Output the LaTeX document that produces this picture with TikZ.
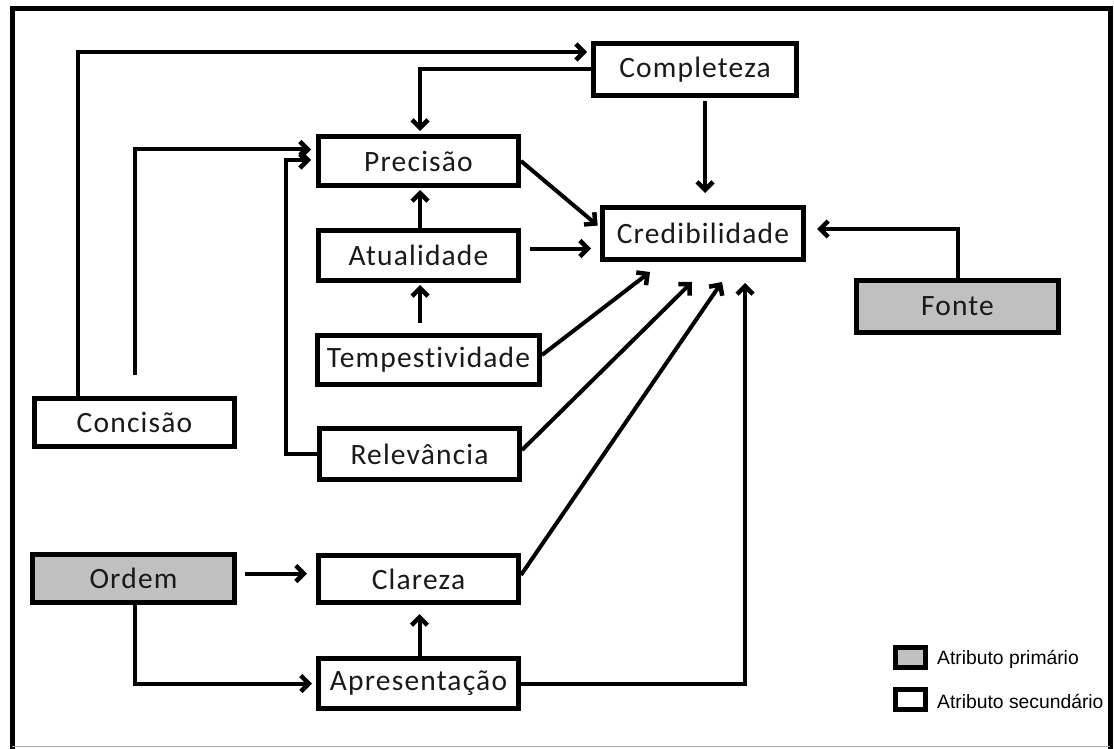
\documentclass[tikz,border=0pt]{standalone}
\usepackage{fontspec}
\setmainfont{Carlito}
\newfontfamily\boxfont[LetterSpace=4,Ligatures=NoCommon]{Carlito}
\newfontfamily\legendfont{Liberation Sans}
\usetikzlibrary{arrows.meta}
\definecolor{boxgray}{RGB}{192,192,192}
\definecolor{inkgray}{RGB}{25,25,25}
\begin{document}
\begin{tikzpicture}[x=1pt,y=-1pt,
  attr/.style={draw=black, line width=5pt, rectangle, fill=white, inner sep=0pt,
               font=\boxfont\fontsize{29.5}{32}\selectfont, text=inkgray},
  primary/.style={attr, fill=boxgray},
  arr/.style={line width=4pt, -{Straight Barb[length=8pt,width=16pt,line width=4.5pt]}},
  keybox/.style={draw=black, line width=5pt, rectangle, inner sep=0pt,
                 minimum width=30pt, minimum height=20pt},
  keytext/.style={anchor=west, inner sep=0pt, font=\legendfont\fontsize{19.3}{21}\selectfont}]

% page and outer frame
\fill[white] (0,0) rectangle (1114,749);
\useasboundingbox (0,0) rectangle (1114,749);
\draw[line width=5pt] (12,749) -- (12,9) -- (1110,9) -- (1110,749);
\draw[gray!60, line width=1.5pt] (12,746.5) -- (1110,746.5);

% attributes
\node[attr, minimum width=203pt, minimum height=52pt] (Completeza) at (695,69.5) {Completeza};
\node[attr, minimum width=200pt, minimum height=49pt] (Precisao) at (418.5,161) {Precisão};
\node[attr, minimum width=201pt, minimum height=52pt] (Cred) at (703,233.5) {Credibilidade};
\node[attr, minimum width=200pt, minimum height=50pt] (Atualidade) at (418.5,255.5) {Atualidade};
\node[attr, minimum width=222pt, minimum height=49pt] (Tempestividade) at (428.5,360) {Tempestividade};
\node[primary, minimum width=202pt, minimum height=52pt] (Fonte) at (957.5,306.5) {Fonte};
\node[attr, minimum width=200pt, minimum height=48pt] (Concisao) at (134.5,422.5) {Concisão};
\node[attr, minimum width=200pt, minimum height=51pt] (Relevancia) at (419.5,454) {Relevância};
\node[primary, minimum width=202pt, minimum height=48pt] (Ordem) at (133.5,578.5) {Ordem};
\node[attr, minimum width=200pt, minimum height=47pt] (Clareza) at (418.5,579) {Clareza};
\node[attr, minimum width=200pt, minimum height=50pt] (Apresentacao) at (418.5,683.5) {Apresentação};

% free ends
\coordinate (concStart) at (135,375);
\coordinate (tipT) at (650,272);
\coordinate (tipR) at (692,282);
\coordinate (tipC) at (722,282);
\coordinate (tipA) at (745,283);

% connectors
\draw[arr, shorten >=4pt] ([xshift=-57pt]Concisao.north) |- ([yshift=17.5pt]Completeza.west);
\draw[arr, shorten >=5pt] (concStart) |- ([yshift=11.5pt]Precisao.west);
\draw[arr, shorten >=5pt] (Relevancia.west) -- ++(-31,0) |- ([yshift=1pt]Precisao.west);
\draw[arr, shorten >=3pt] (Completeza.west) -| ([xshift=1.5pt]Precisao.north);
\draw[arr, shorten <=3pt, shorten >=12pt] ([xshift=10pt]Completeza.south) -- ([xshift=10pt]Completeza.south |- Cred.north);
\draw[arr, shorten >=11pt] (Fonte.north) |- ([yshift=4.5pt]Cred.east);
\draw[arr, shorten >=3pt] (Precisao.east) -- ([yshift=6pt]Cred.west);
\draw[arr, shorten <=9pt, shorten >=9pt] ([yshift=7pt]Atualidade.east) -- ([yshift=7pt]Atualidade.east -| Cred.west);
\draw[arr, shorten >=2pt] ([xshift=1.5pt]Atualidade.north) -- ([xshift=1.5pt]Precisao.south);
\draw[arr, shorten <=10pt, shorten >=2pt] ([xshift=1.5pt]Atualidade.south |- Tempestividade.north) -- ([xshift=1.5pt]Atualidade.south);
\draw[arr] ([yshift=5pt]Tempestividade.east) -- (tipT);
\draw[arr] ([yshift=4pt]Relevancia.east) -- (tipR);
\draw[arr] ([yshift=4pt]Clareza.east) -- (tipC);
\draw[arr] (Apresentacao.east) -| (tipA);
\draw[arr, shorten <=8pt, shorten >=9pt] ([yshift=5pt]Ordem.east) -- ([yshift=5pt]Ordem.east -| Clareza.west);
\draw[arr, shorten >=4pt] ([xshift=1.5pt]Ordem.south) |- (Apresentacao.west);
\draw[arr, shorten >=9pt] ([xshift=1pt]Apresentacao.north) -- ([xshift=1pt]Clareza.south);

% key
\node[keybox, fill=boxgray] (keyPrimary) at (910.5,657.5) {};
\node[keybox, fill=white] (keySecondary) at (910.5,699.5) {};
\node[keytext] (keyPrimaryText) at (937,659) {Atributo primário};
\node[keytext] (keySecondaryText) at (937,701) {Atributo secundário};
\end{tikzpicture}
\end{document}
